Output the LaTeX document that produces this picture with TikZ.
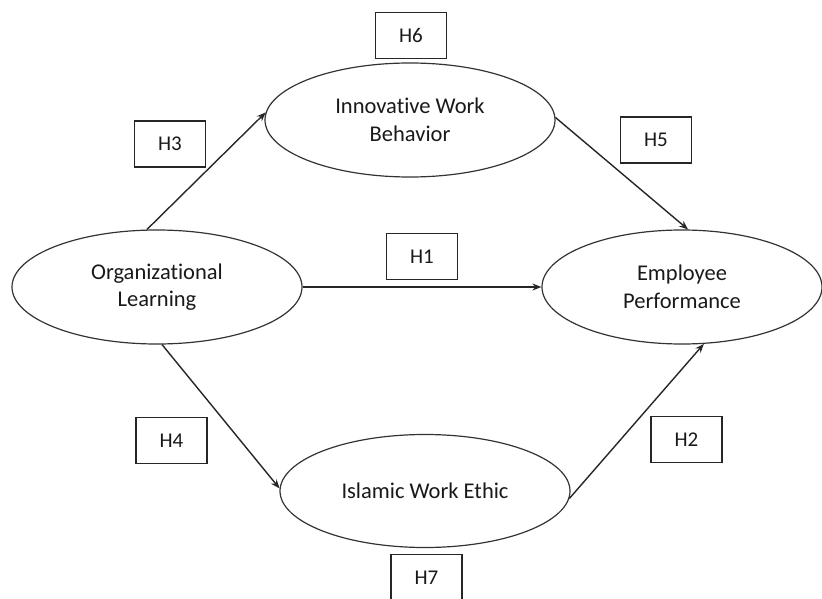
\documentclass[tikz,border=0pt]{standalone}
\usepackage{fontspec}
\setmainfont{Carlito}[RawFeature={-liga}]
\usetikzlibrary{shapes.geometric,arrows.meta}
\begin{document}
\begin{tikzpicture}[x=1pt,y=-1pt,
  construct/.style={ellipse,draw=black!80,line width=1.2pt,inner sep=0pt,
    minimum width=290pt,minimum height=114pt,align=center,
    font=\fontsize{22.5}{27.5}\selectfont,text=black!90},
  hypbox/.style={rectangle,draw=black!85,line width=1.5pt,inner sep=0pt,
    minimum width=71pt,minimum height=46pt,
    font=\fontsize{21}{24}\selectfont,text=black!90},
  path/.style={draw=black!85,line width=1.4pt,-{Stealth[length=9pt,width=7pt]}}]
\useasboundingbox (0,0) rectangle (822,599);

% constructs
\node[construct] (ol)  at (157,287) {Organizational\\Learning};
\node[construct] (iwb) at (410,120) {Innovative Work\\Behavior};
\node[construct,minimum width=280pt] (ep) at (682,287) {Employee\\Performance};
\node[construct,minimum height=113pt] (iwe) at (425,491) {Islamic Work Ethic};

% hypothesis labels
\node[hypbox] (h6) at (411,35.5) {H6};
\node[hypbox] (h3) at (170,144) {H3};
\node[hypbox] (h5) at (656,140) {H5};
\node[hypbox] (h1) at (422,256.5) {H1};
\node[hypbox] (h4) at (171.5,440.5) {H4};
\node[hypbox] (h2) at (686.5,439.5) {H2};
\node[hypbox] (h7) at (426.5,577.5) {H7};

% structural paths
\draw[path] (ol.100) -- (iwb.177);
\draw[path] (iwb.1) -- (ep.84);
\draw[path] (ol.east) -- (ep.west);
\draw[path] (ol.275) -- (iwe.179);
\draw[path] (iwe.-3) -- (ep.-69);
\end{tikzpicture}
\end{document}
